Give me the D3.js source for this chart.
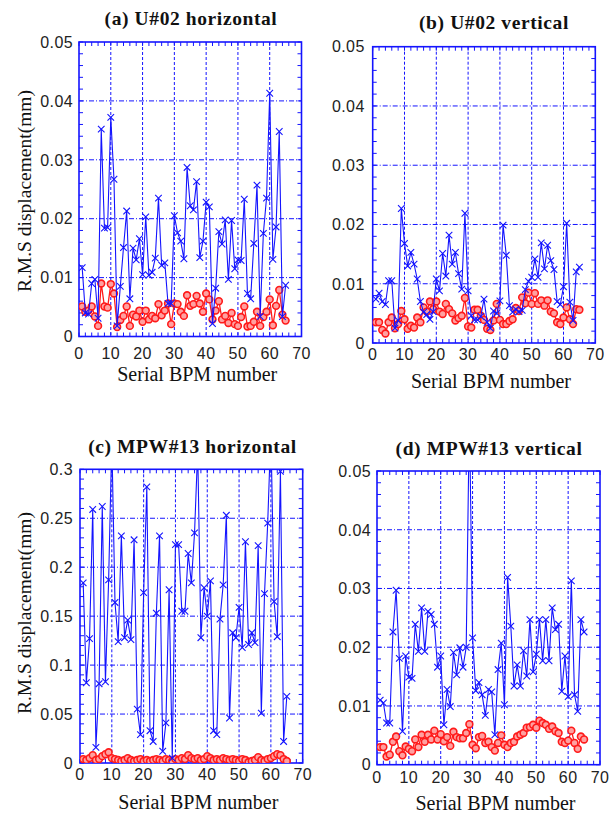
<!DOCTYPE html>
<html><head><meta charset="utf-8">
<script src="https://cdn.jsdelivr.net/npm/d3@7"></script>
<style>body{margin:0;background:#fff}svg{display:block}</style>
</head><body>
<script>
const bpm = [1,2,3,4,5,6,7,8,9,10,11,12,13,14,15,16,17,18,19,20,21,22,23,24,25,26,27,28,29,30,31,32,33,34,35,36,37,38,39,40,41,42,43,44,45,46,47,48,49,50,51,52,53,54,55,56,57,58,59,60,61,62,63,64,65];

const uHorizBlue = [0.0117,0.0040,0.0038,0.0090,0.0097,0.0031,0.0352,0.0184,0.0185,0.0372,
 0.0267,0.0018,0.0085,0.0151,0.0213,0.0064,0.0150,0.0130,0.0166,0.0105,
 0.0203,0.0104,0.0109,0.0133,0.0235,0.0121,0.0125,0.0056,0.0056,0.0205,
 0.0176,0.0162,0.0132,0.0287,0.0222,0.0215,0.0263,0.0134,0.0162,0.0228,
 0.0220,0.0022,0.0082,0.0178,0.0157,0.0198,0.0097,0.0197,0.0115,0.0130,
 0.0129,0.0233,0.0073,0.0064,0.0158,0.0257,0.0034,0.0175,0.0235,0.0413,
 0.0131,0.0186,0.0348,0.0034,0.0087];
const uHorizRed = [0.0051,0.0042,0.0044,0.0051,0.0034,0.0018,0.0090,0.0051,0.0049,0.0089,
 0.0073,0.0016,0.0028,0.0035,0.0051,0.0018,0.0037,0.0034,0.0044,0.0025,
 0.0044,0.0029,0.0035,0.0031,0.0055,0.0036,0.0044,0.0056,0.0021,0.0056,
 0.0055,0.0042,0.0035,0.0070,0.0052,0.0055,0.0069,0.0056,0.0042,0.0073,
 0.0063,0.0029,0.0044,0.0060,0.0029,0.0035,0.0023,0.0040,0.0021,0.0018,
 0.0033,0.0051,0.0017,0.0018,0.0025,0.0042,0.0018,0.0033,0.0042,0.0063,
 0.0019,0.0052,0.0079,0.0037,0.0027];

const uVertBlue = [0.0074,0.0084,0.0070,0.0065,0.0105,0.0105,0.0025,0.0038,0.0227,0.0168,
 0.0130,0.0153,0.0133,0.0108,0.0070,0.0052,0.0048,0.0040,0.0053,0.0108,
 0.0088,0.0151,0.0113,0.0182,0.0133,0.0153,0.0117,0.0091,0.0219,0.0088,
 0.0046,0.0039,0.0039,0.0045,0.0074,0.0035,0.0025,0.0054,0.0050,0.0071,
 0.0199,0.0148,0.0063,0.0052,0.0057,0.0053,0.0055,0.0090,0.0104,0.0111,
 0.0142,0.0111,0.0169,0.0125,0.0165,0.0139,0.0124,0.0070,0.0065,0.0095,
 0.0202,0.0069,0.0038,0.0120,0.0128];
const uVertRed = [0.0035,0.0035,0.0022,0.0016,0.0035,0.0043,0.0025,0.0032,0.0054,0.0040,
 0.0024,0.0029,0.0026,0.0043,0.0035,0.0060,0.0053,0.0070,0.0057,0.0070,
 0.0053,0.0049,0.0066,0.0057,0.0050,0.0038,0.0042,0.0046,0.0076,0.0028,
 0.0026,0.0056,0.0056,0.0046,0.0039,0.0024,0.0022,0.0038,0.0066,0.0039,
 0.0032,0.0032,0.0037,0.0040,0.0059,0.0054,0.0077,0.0067,0.0085,0.0066,
 0.0084,0.0066,0.0072,0.0063,0.0072,0.0053,0.0050,0.0035,0.0032,0.0043,
 0.0060,0.0040,0.0032,0.0057,0.0056];

const mpwHorizBlue = [0.184,0.082,0.127,0.259,0.016,0.081,0.262,0.083,0.187,0.330,
 0.164,0.124,0.232,0.128,0.146,0.126,0.228,0.055,0.029,0.174,
 0.282,0.033,0.022,0.153,0.232,0.012,0.041,0.177,0.005,0.223,
 0.223,0.155,0.155,0.214,0.184,0.235,0.320,0.128,0.179,0.150,
 0.186,0.033,0.029,0.147,0.182,0.253,0.046,0.133,0.128,0.159,
 0.118,0.226,0.121,0.133,0.123,0.222,0.051,0.173,0.245,0.340,
 0.165,0.129,0.298,0.022,0.068];
const mpwHorizRed = [0.004,0.003,0.005,0.008,0.003,0.004,0.007,0.009,0.011,0.005,
 0.004,0.003,0.002,0.003,0.005,0.003,0.002,0.003,0.004,0.002,
 0.003,0.002,0.003,0.004,0.003,0.002,0.004,0.003,0.002,0.004,
 0.003,0.005,0.004,0.008,0.005,0.004,0.005,0.003,0.004,0.007,
 0.005,0.003,0.004,0.003,0.005,0.004,0.003,0.004,0.003,0.002,
 0.004,0.003,0.001,0.002,0.003,0.006,0.003,0.002,0.004,0.005,
 0.007,0.009,0.008,0.004,0.002];

const mpwVertBlue = [0.0110,0.0105,0.0071,0.0071,0.0226,0.0297,0.0181,0.0057,0.0185,0.0149,
 0.0147,0.0239,0.0193,0.0267,0.0193,0.0261,0.0256,0.0239,0.0166,0.0185,
 0.0068,0.0128,0.0099,0.0191,0.0153,0.0199,0.0166,0.0200,0.0600,0.0216,
 0.0126,0.0140,0.0119,0.0084,0.0128,0.0124,0.0051,0.0162,0.0207,0.0102,
 0.0319,0.0236,0.0134,0.0170,0.0134,0.0194,0.0151,0.0247,0.0158,0.0188,
 0.0247,0.0177,0.0247,0.0177,0.0267,0.0230,0.0239,0.0125,0.0185,0.0116,
 0.0313,0.0119,0.0091,0.0247,0.0226];
const mpwVertRed = [0.0030,0.0030,0.0014,0.0017,0.0039,0.0048,0.0023,0.0016,0.0031,0.0027,
 0.0023,0.0043,0.0030,0.0051,0.0039,0.0051,0.0043,0.0058,0.0043,0.0052,
 0.0040,0.0047,0.0032,0.0056,0.0047,0.0045,0.0045,0.0054,0.0069,0.0034,
 0.0028,0.0047,0.0049,0.0037,0.0039,0.0030,0.0024,0.0037,0.0050,0.0034,
 0.0030,0.0037,0.0039,0.0048,0.0051,0.0054,0.0063,0.0064,0.0068,0.0063,
 0.0075,0.0071,0.0068,0.0061,0.0065,0.0057,0.0054,0.0039,0.0037,0.0041,
 0.0058,0.0037,0.0027,0.0048,0.0043];

const xTicks = [0,10,20,30,40,50,60,70];
const yTicksSmall = [0,0.01,0.02,0.03,0.04,0.05];
const yTicksLarge = [0,0.05,0.1,0.15,0.2,0.25,0.3];
const titles = ["(a) U#02 horizontal","(b) U#02 vertical","(c) MPW#13 horizontal","(d) MPW#13 vertical"];
const xTitle = "Serial BPM number";
const yTitle = "R.M.S displacement(mm)";

const W = 613, H = 815;
const BLUE = "#1414ff", RED = "#ff1a1a";

const panels = [
  {title:titles[0], blue:uHorizBlue, red:uHorizRed, yTicks:yTicksSmall, yMax:0.05, yMinor:0.002,
   l:79, r:301.5, t:42, b:336.5, titleX:191, titleY:25, xLabY:358.5, xTitleY:381, yGap:6, yTitle:true, yTitleY:191},
  {title:titles[1], blue:uVertBlue, red:uVertRed, yTicks:yTicksSmall, yMax:0.05, yMinor:0.002,
   l:372.7, r:595.3, t:46.7, b:343, titleX:494, titleY:28.5, xLabY:360, xTitleY:388, yGap:8, yTitle:false},
  {title:titles[2], blue:mpwHorizBlue, red:mpwHorizRed, yTicks:yTicksLarge, yMax:0.3, yMinor:0.01,
   l:80, r:302.7, t:469.3, b:763, titleX:192.5, titleY:453, xLabY:780, xTitleY:809, yGap:7, yTitle:true, yTitleY:613},
  {title:titles[3], blue:mpwVertBlue, red:mpwVertRed, yTicks:yTicksSmall, yMax:0.05, yMinor:0.002,
   l:377, r:600, t:471, b:764.7, titleX:489, titleY:455, xLabY:783, xTitleY:810, yGap:6, yTitle:false}
];

const svg = d3.select("body").append("svg").attr("width",W).attr("height",H);
svg.append("rect").attr("width",W).attr("height",H).attr("fill","#fff");
const defs = svg.append("defs");

const fmt = v => v === 0 ? "0" : String(+v.toFixed(3));

panels.forEach((p, pi) => {
  const x = d3.scaleLinear().domain([0,70]).range([p.l, p.r]);
  const y = d3.scaleLinear().domain([0,p.yMax]).range([p.b, p.t]);
  const g = svg.append("g");

  defs.append("clipPath").attr("id","clip"+pi).append("rect")
    .attr("x",p.l).attr("y",p.t).attr("width",p.r-p.l).attr("height",p.b-p.t);

  // grid lines
  xTicks.slice(1,-1).forEach(t => g.append("line")
    .attr("x1",x(t)).attr("x2",x(t)).attr("y1",p.t).attr("y2",p.b)
    .attr("stroke",BLUE).attr("stroke-width",1).attr("stroke-dasharray","3,2"));
  p.yTicks.slice(1,-1).forEach(t => g.append("line")
    .attr("x1",p.l).attr("x2",p.r).attr("y1",y(t)).attr("y2",y(t))
    .attr("stroke",BLUE).attr("stroke-width",1).attr("stroke-dasharray","5,2,1,2"));

  // minor ticks
  const xMinor = d3.range(0, 70.001, 2);
  const yMinor = d3.range(0, p.yMax + 1e-9, p.yMinor);
  const tk = 4;
  xMinor.forEach(t => {
    g.append("line").attr("x1",x(t)).attr("x2",x(t)).attr("y1",p.b).attr("y2",p.b-tk).attr("stroke",BLUE);
    g.append("line").attr("x1",x(t)).attr("x2",x(t)).attr("y1",p.t).attr("y2",p.t+tk).attr("stroke",BLUE);
  });
  yMinor.forEach(t => {
    g.append("line").attr("x1",p.l).attr("x2",p.l+tk).attr("y1",y(t)).attr("y2",y(t)).attr("stroke",BLUE);
    g.append("line").attr("x1",p.r).attr("x2",p.r-tk).attr("y1",y(t)).attr("y2",y(t)).attr("stroke",BLUE);
  });

  // frame
  g.append("rect").attr("x",p.l).attr("y",p.t).attr("width",p.r-p.l).attr("height",p.b-p.t)
    .attr("fill","none").attr("stroke",BLUE).attr("stroke-width",1.6);

  // tick labels
  xTicks.forEach(t => g.append("text").attr("x",x(t)).attr("y",p.xLabY)
    .attr("text-anchor","middle").attr("font-family","Liberation Sans, Arial, sans-serif")
    .attr("font-size",16).attr("letter-spacing","0.4").attr("fill","#222").text(t));
  p.yTicks.forEach(t => g.append("text").attr("x",p.l-p.yGap).attr("y",y(t)).attr("dy","0.36em")
    .attr("text-anchor","end").attr("font-family","Liberation Sans, Arial, sans-serif")
    .attr("font-size",16).attr("letter-spacing","0.4").attr("fill","#222").text(fmt(t)));

  // titles
  g.append("text").attr("x",p.titleX).attr("y",p.titleY).attr("text-anchor","middle")
    .attr("font-family","Liberation Serif, Times New Roman, serif").attr("font-weight","bold")
    .attr("font-size",19.5).attr("letter-spacing","0.6").attr("fill","#111").text(p.title);
  g.append("text").attr("x",(p.l+p.r)/2+7).attr("y",p.xTitleY).attr("text-anchor","middle")
    .attr("font-family","Liberation Serif, Times New Roman, serif")
    .attr("font-size",20).attr("fill","#111").text(xTitle);
  if (p.yTitle) {
    g.append("text").attr("transform",`translate(31,${p.yTitleY}) rotate(-90)`).attr("text-anchor","middle")
      .attr("font-family","Liberation Serif, Times New Roman, serif")
      .attr("font-size",19.5).attr("fill","#111").text(yTitle);
  }

  const data = g.append("g").attr("clip-path",`url(#clip${pi})`);
  const line = d3.line().x((d,i)=>x(bpm[i])).y(d=>y(d));

  // red series
  data.append("path").datum(p.red).attr("d",line).attr("fill","none")
    .attr("stroke",RED).attr("stroke-width",1.3);
  data.selectAll(".rc").data(p.red).enter().append("circle")
    .attr("cx",(d,i)=>x(bpm[i])).attr("cy",d=>y(d)).attr("r",3.4)
    .attr("fill","#ffa0a0").attr("stroke",RED).attr("stroke-width",1.6);

  // blue series
  data.append("path").datum(p.blue).attr("d",line).attr("fill","none")
    .attr("stroke",BLUE).attr("stroke-width",1.1);
  const s = 3.3;
  p.blue.forEach((d,i) => {
    const cx = x(bpm[i]), cy = y(d);
    data.append("path").attr("d",`M${cx-s},${cy-s}L${cx+s},${cy+s}M${cx-s},${cy+s}L${cx+s},${cy-s}`)
      .attr("stroke",BLUE).attr("stroke-width",1.1).attr("fill","none");
  });
});
</script>
</body></html>
